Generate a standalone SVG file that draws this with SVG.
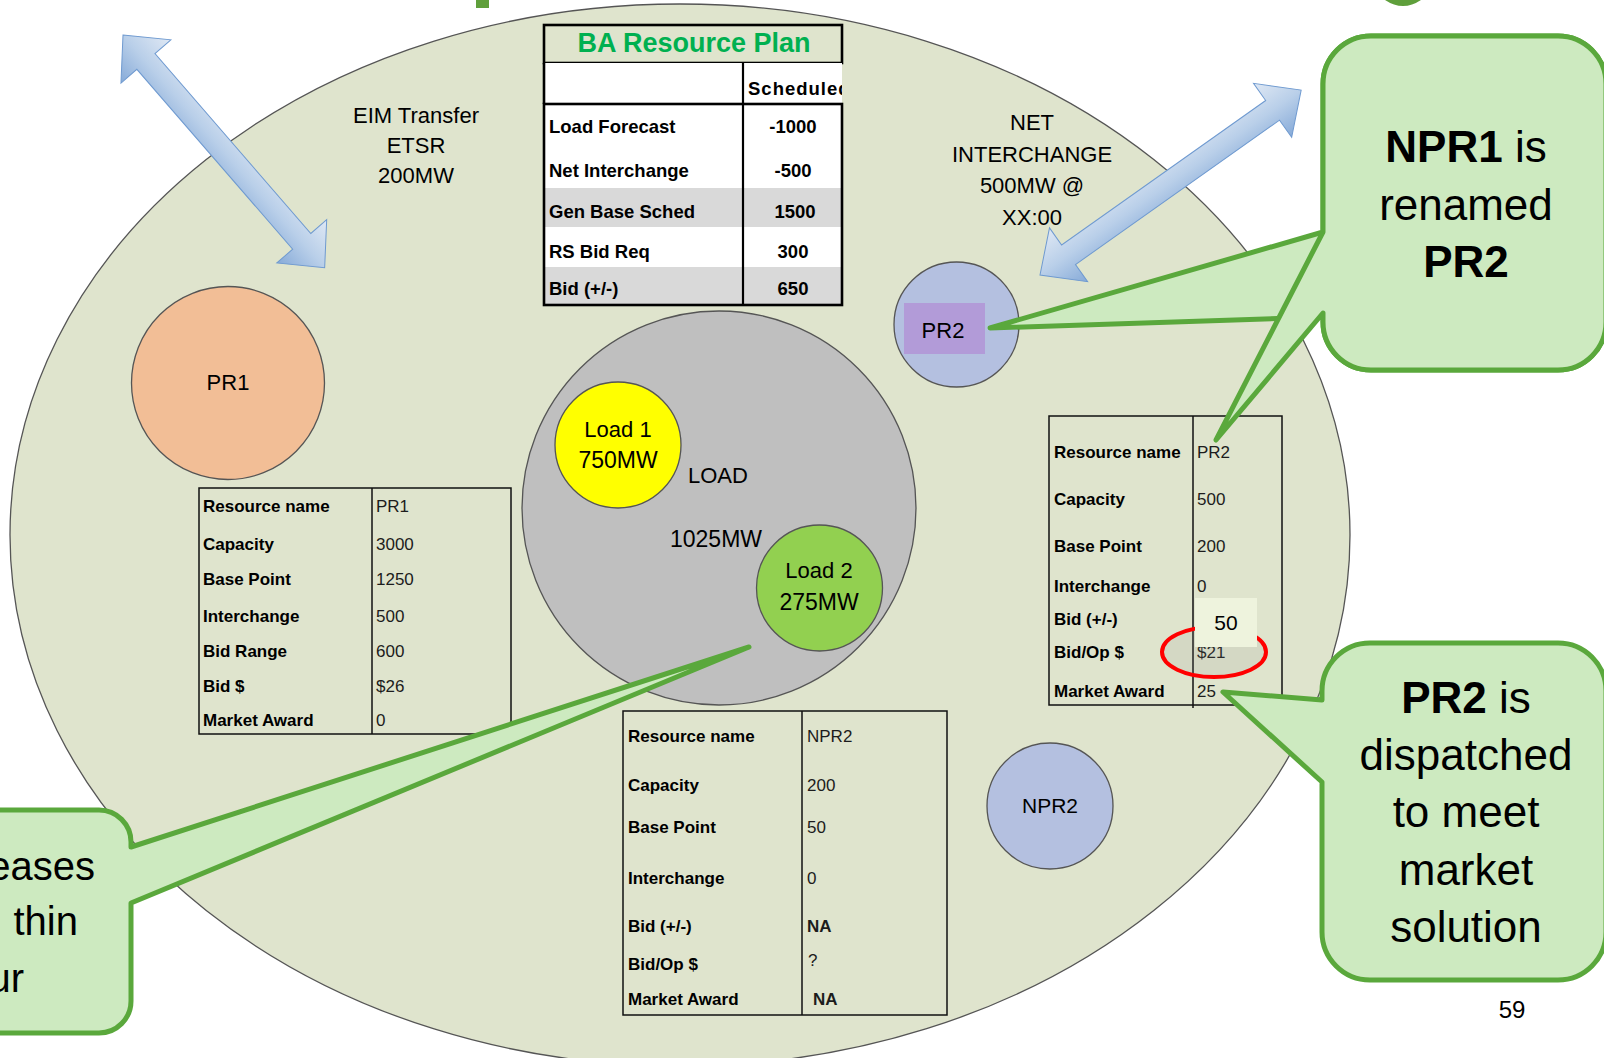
<svg xmlns="http://www.w3.org/2000/svg" width="1604" height="1058" viewBox="0 0 1604 1058">
  <style>
    text { font-family: "Liberation Sans", Arial, sans-serif; fill: #000; }
    .ring { stroke: #555; stroke-width: 1.3; }
    .grid { fill: none; stroke: #111; stroke-width: 1.5; }
    .thick { fill: none; stroke: #000; stroke-width: 2.6; }
    .lbl { font-size: 17px; font-weight: bold; }
    .val { font-size: 17px; fill: #1c1c1c; }
    .plan { font-size: 18.5px; font-weight: bold; }
    .note { font-size: 22px; text-anchor: middle; }
    .callout { fill: #cdeac0; stroke: #5aa83c; stroke-width: 5; stroke-linejoin: round; }
    .big { font-size: 44px; text-anchor: middle; }
    .xfer { fill: url(#arrowFill); stroke: #6f9ad0; stroke-width: 1; }
  </style>
  <defs>
    <linearGradient id="arrowFill" x1="0" y1="0" x2="0" y2="1">
      <stop offset="0" stop-color="#dfe8f4"/>
      <stop offset="0.5" stop-color="#b9cfe9"/>
      <stop offset="1" stop-color="#86aad8"/>
    </linearGradient>
    <clipPath id="headerClip">
      <rect x="544" y="63" width="298" height="42"/>
    </clipPath>
  </defs>

  <rect width="1604" height="1058" fill="#fff"/>

  <!-- descenders of the slide heading above the frame -->
  <g id="heading-edge" fill="#5f9f3b">
    <rect x="476" y="0" width="13" height="8"/>
    <path d="M1385,0 Q1403,12 1421,0 Z"/>
  </g>

  <!-- balancing area -->
  <g id="balancing-area">
    <ellipse cx="680" cy="535" rx="670" ry="531" fill="#dfe4cd" class="ring"/>
  </g>

  <!-- transfer arrows -->
  <g id="connectors">
    <path class="xfer" transform="translate(123,35) rotate(49.1)" d="M0,0 L35,-33 L35,-12 L273,-12 L273,-33 L308,0 L273,33 L273,12 L35,12 L35,33 Z"/>
    <path class="xfer" transform="translate(1040,275) rotate(-35.3)" d="M0,0 L35,-33 L35,-12 L285,-12 L285,-33 L320,0 L285,33 L285,12 L35,12 L35,33 Z"/>
  </g>

  <g id="eim-transfer-label">
    <text class="note" x="416" y="123">EIM Transfer</text>
    <text class="note" x="416" y="153">ETSR</text>
    <text class="note" x="416" y="183">200MW</text>
  </g>

  <g id="net-interchange-label">
    <text class="note" x="1032" y="130" font-size="21">NET</text>
    <text class="note" x="1032" y="162" font-size="21">INTERCHANGE</text>
    <text class="note" x="1032" y="193" font-size="21">500MW @</text>
    <text class="note" x="1032" y="225" font-size="21">XX:00</text>
  </g>

  <!-- BA resource plan table -->
  <g id="ba-resource-plan">
    <rect x="544" y="25" width="298" height="38" fill="#fff" class="thick"/>
    <text x="694" y="52" font-size="27" font-weight="bold" text-anchor="middle" style="fill:#00b050">BA Resource Plan</text>
    <rect x="544" y="63" width="298" height="41" fill="#fff"/>
    <g clip-path="url(#headerClip)">
      <text class="plan" x="748" y="95" letter-spacing="1">Scheduled</text>
    </g>
    <line x1="544" y1="63" x2="544" y2="104" stroke="#000" stroke-width="2.6"/>
    <line x1="743" y1="63" x2="743" y2="104" stroke="#000" stroke-width="2.2"/>
    <rect x="544" y="104" width="298" height="201" fill="#fff"/>
    <rect x="544" y="188" width="298" height="39" fill="#d9d9d9"/>
    <rect x="544" y="267" width="298" height="38" fill="#d9d9d9"/>
    <rect x="544" y="104" width="298" height="201" class="thick"/>
    <line x1="743" y1="104" x2="743" y2="305" stroke="#000" stroke-width="2.2"/>
    <text class="plan" x="549" y="133">Load Forecast</text>
    <text class="plan" x="549" y="177">Net Interchange</text>
    <text class="plan" x="549" y="218">Gen Base Sched</text>
    <text class="plan" x="549" y="258">RS Bid Req</text>
    <text class="plan" x="549" y="295">Bid  (+/-)</text>
    <text class="plan" x="793" y="133" text-anchor="middle">-1000</text>
    <text class="plan" x="793" y="177" text-anchor="middle">-500</text>
    <text class="plan" x="795" y="218" text-anchor="middle">1500</text>
    <text class="plan" x="793" y="258" text-anchor="middle">300</text>
    <text class="plan" x="793" y="295" text-anchor="middle">650</text>
  </g>

  <!-- participating resource 1 -->
  <g id="pr1">
    <circle cx="228" cy="383" r="96.5" fill="#f2be96" class="ring"/>
    <text class="note" x="228" y="390">PR1</text>
  </g>

  <g id="pr1-table">
    <rect x="199" y="488" width="312" height="246" class="grid"/>
    <line x1="372" y1="488" x2="372" y2="734" stroke="#111" stroke-width="1.5"/>
    <text class="lbl" x="203" y="512">Resource name</text>
    <text class="lbl" x="203" y="550">Capacity</text>
    <text class="lbl" x="203" y="585">Base Point</text>
    <text class="lbl" x="203" y="622">Interchange</text>
    <text class="lbl" x="203" y="657">Bid Range</text>
    <text class="lbl" x="203" y="692">Bid $</text>
    <text class="lbl" x="203" y="726">Market Award</text>
    <text class="val" x="376" y="512">PR1</text>
    <text class="val" x="376" y="550">3000</text>
    <text class="val" x="376" y="585">1250</text>
    <text class="val" x="376" y="622">500</text>
    <text class="val" x="376" y="657">600</text>
    <text class="val" x="376" y="692">$26</text>
    <text class="val" x="376" y="726">0</text>
  </g>

  <!-- aggregate load with its two loads -->
  <g id="load">
    <circle cx="719" cy="508" r="197" fill="#bfbfbf" class="ring"/>
    <text x="688" y="483" font-size="22">LOAD</text>
    <text x="670" y="547" font-size="23">1025MW</text>
  </g>
  <g id="load-1">
    <circle cx="618" cy="445" r="63" fill="#ffff00" class="ring"/>
    <text x="618" y="437" font-size="22" text-anchor="middle">Load 1</text>
    <text x="618" y="468" font-size="23" text-anchor="middle">750MW</text>
  </g>
  <g id="load-2">
    <circle cx="819.5" cy="588" r="63" fill="#92d050" class="ring"/>
    <text x="819" y="578" font-size="22" text-anchor="middle">Load 2</text>
    <text x="819" y="610" font-size="23" text-anchor="middle">275MW</text>
  </g>

  <!-- participating resource 2 -->
  <g id="pr2">
    <circle cx="956.5" cy="324.5" r="62.5" fill="#b4c0e0" class="ring"/>
    <rect x="904" y="303" width="81" height="51" fill="#b29bd8"/>
    <text x="943" y="338" font-size="22" text-anchor="middle">PR2</text>
  </g>

  <g id="pr2-table">
    <rect x="1049" y="416" width="233" height="289" class="grid"/>
    <line x1="1193" y1="416" x2="1193" y2="708" stroke="#111" stroke-width="1.5"/>
    <text class="lbl" x="1054" y="458">Resource name</text>
    <text class="lbl" x="1054" y="505">Capacity</text>
    <text class="lbl" x="1054" y="552">Base Point</text>
    <text class="lbl" x="1054" y="592">Interchange</text>
    <text class="lbl" x="1054" y="625">Bid (+/-)</text>
    <text class="lbl" x="1054" y="658">Bid/Op $</text>
    <text class="lbl" x="1054" y="697">Market Award</text>
    <text class="val" x="1197" y="458">PR2</text>
    <text class="val" x="1197" y="505">500</text>
    <text class="val" x="1197" y="552">200</text>
    <text class="val" x="1197" y="592">0</text>
    <text class="val" x="1197" y="658">$21</text>
    <text class="val" x="1197" y="697">25</text>
    <ellipse cx="1214" cy="652" rx="52" ry="25" fill="#8a8a8a" fill-opacity="0.13" stroke="#ff0000" stroke-width="4"/>
    <rect x="1195" y="598" width="62" height="49" fill="#eef3dd"/>
    <text x="1226" y="630" font-size="21" text-anchor="middle">50</text>
  </g>

  <!-- non-participating resource 2 -->
  <g id="npr2">
    <circle cx="1050" cy="806" r="63" fill="#b4c0e0" class="ring"/>
    <text x="1050" y="813" font-size="21" text-anchor="middle">NPR2</text>
  </g>

  <g id="npr2-table">
    <rect x="623" y="711" width="324" height="304" class="grid"/>
    <line x1="802" y1="711" x2="802" y2="1015" stroke="#111" stroke-width="1.5"/>
    <text class="lbl" x="628" y="742">Resource name</text>
    <text class="lbl" x="628" y="791">Capacity</text>
    <text class="lbl" x="628" y="833">Base Point</text>
    <text class="lbl" x="628" y="884">Interchange</text>
    <text class="lbl" x="628" y="932">Bid (+/-)</text>
    <text class="lbl" x="628" y="970">Bid/Op $</text>
    <text class="lbl" x="628" y="1005">Market Award</text>
    <text class="val" x="807" y="742">NPR2</text>
    <text class="val" x="807" y="791">200</text>
    <text class="val" x="807" y="833">50</text>
    <text class="val" x="807" y="884">0</text>
    <text class="val" x="807" y="932" font-weight="bold">NA</text>
    <text class="val" x="808" y="966" font-size="20">?</text>
    <text class="val" x="813" y="1005" font-weight="bold">NA</text>
  </g>

  <!-- callouts -->
  <g id="callout-load">
    <path class="callout" d="M-100,810 H99 A32,32 0 0 1 131,842 V847 L749,647 L131,903 V1001 A32,32 0 0 1 99,1033 H-100 Z"/>
    <text x="95" y="880" font-size="40" text-anchor="end">eases</text>
    <text x="78" y="935" font-size="40" text-anchor="end">thin</text>
    <text x="24" y="992" font-size="40" text-anchor="end">ur</text>
  </g>

  <g id="callout-renamed">
    <path class="callout" d="M1371,36 H1558 A48,48 0 0 1 1606,84 V322 A48,48 0 0 1 1558,370 H1371 A48,48 0 0 1 1323,322 V317 L990,328 L1323,232 V84 A48,48 0 0 1 1371,36 Z"/>
    <path class="callout" d="M1371,36 H1558 A48,48 0 0 1 1606,84 V322 A48,48 0 0 1 1558,370 H1371 A48,48 0 0 1 1323,322 V313 L1216,440 L1323,232 V84 A48,48 0 0 1 1371,36 Z"/>
    <text class="big" x="1466" y="162"><tspan font-weight="bold">NPR1</tspan> is</text>
    <text class="big" x="1466" y="220">renamed</text>
    <text class="big" x="1466" y="277" font-weight="bold">PR2</text>
  </g>

  <g id="callout-dispatched">
    <path class="callout" d="M1370,643 H1558 A48,48 0 0 1 1606,691 V932 A48,48 0 0 1 1558,980 H1370 A48,48 0 0 1 1322,932 V782 L1223,692 L1322,700 V691 A48,48 0 0 1 1370,643 Z"/>
    <text class="big" x="1466" y="713"><tspan font-weight="bold">PR2</tspan> is</text>
    <text class="big" x="1466" y="770">dispatched</text>
    <text class="big" x="1466" y="827">to meet</text>
    <text class="big" x="1466" y="885">market</text>
    <text class="big" x="1466" y="942">solution</text>
  </g>

  <g id="page-number">
    <text x="1512" y="1018" font-size="24" text-anchor="middle">59</text>
  </g>
</svg>
